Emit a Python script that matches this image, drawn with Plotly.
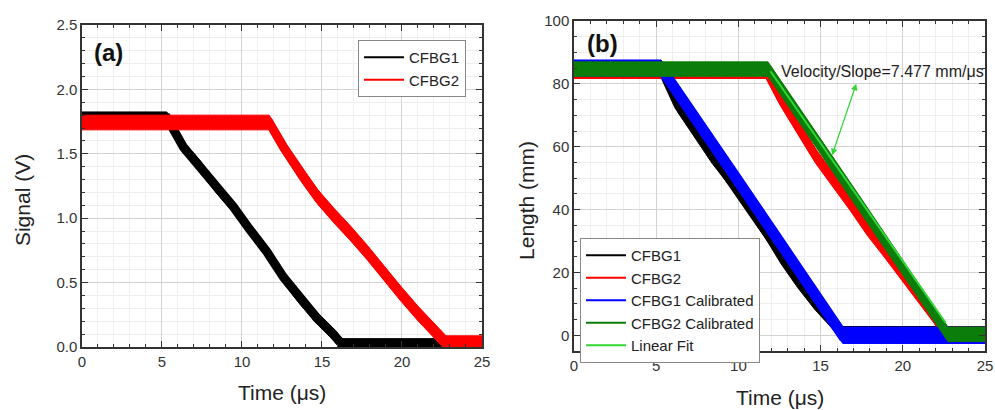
import plotly.graph_objects as go

# ---------------- Panel (a): Signal (V) vs Time (us) ----------------
t_a1 = [0, 5.3, 6.35, 7.4, 8.4, 9.45, 10.5, 11.55, 12.6, 13.6, 14.65, 15.7, 16.25, 25]
v_a1 = [1.78, 1.78, 1.55, 1.40, 1.24, 1.09, 0.91, 0.74, 0.54, 0.38, 0.23, 0.10, 0.02, 0.02]
t_a2 = [0, 11.7, 12.6, 13.65, 14.7, 15.75, 16.8, 17.85, 18.9, 19.95, 21.0, 22.0, 22.75, 25]
v_a2 = [1.743, 1.743, 1.55, 1.35, 1.17, 1.02, 0.88, 0.73, 0.57, 0.41, 0.26, 0.13, 0.03, 0.03]
noise_a = [0.045, 0.057]   # half-width of the noisy bands (V)

# ---------------- Panel (b): Length (mm) vs Time (us) ----------------
t_b1 = [0, 5.3, 6.35, 7.4, 8.4, 9.45, 10.5, 11.55, 12.6, 13.6, 14.65, 15.7, 16.3, 25]
l_b1 = [85, 85, 73, 65, 57, 50, 42, 34, 25, 17.5, 10.5, 4.5, 0.5, 0.5]
t_b2 = [0, 11.7, 12.6, 13.65, 14.7, 15.75, 16.8, 17.85, 18.9, 19.95, 21.0, 22.0, 22.5, 25]
l_b2 = [84, 84, 75, 66, 57, 49.5, 42, 34, 27, 19.5, 12.5, 5.5, 0.3, 0.3]
t_b3 = [0, 5.3, 10.0, 16.35, 25]
l_b3 = [85, 85, 49, 0.0, 0.0]
t_b4 = [0, 11.8, 17.3, 22.75, 25]
l_b4 = [84.7, 84.7, 42.5, 0.3, 0.3]
t_fit = [11.95, 22.6]
l_fit = [84.0, 4.0]
noise_b = [2.3, 2.3, 2.6, 2.3]   # half-width of the noisy bands (mm)

names_a = ["CFBG1", "CFBG2"]
names_b = ["CFBG1", "CFBG2", "CFBG1 Calibrated", "CFBG2 Calibrated", "Linear Fit"]
annot_text = "Velocity/Slope=7.477 mm/μs"

BLACK, RED, BLUE, DGREEN, LGREEN = "#000000", "#ff0000", "#0000ff", "#0a7d0a", "#33d633"
FONT = "Arial, Liberation Sans, sans-serif"


def band(t, v, h):
    xs = list(t) + list(t)[::-1]
    ys = [y + h for y in v] + [y - h for y in v][::-1]
    return xs, ys


fig = go.Figure()


def add_band(t, v, h, color, lw, xa, ya):
    xs, ys = band(t, v, h)
    fig.add_trace(go.Scatter(x=xs, y=ys, fill="toself", fillcolor=color, mode="lines",
                             line=dict(color=color, width=1), hoverinfo="skip",
                             showlegend=False, xaxis=xa, yaxis=ya))
    fig.add_trace(go.Scatter(x=t, y=v, mode="lines", line=dict(color=color, width=lw),
                             hoverinfo="skip", showlegend=False, xaxis=xa, yaxis=ya))


# panel a
add_band(t_a1, v_a1, noise_a[0], BLACK, 9, "x", "y")
add_band(t_a2, v_a2, noise_a[1], RED, 9, "x", "y")
# panel b
add_band(t_b1, l_b1, noise_b[0], BLACK, 9, "x2", "y2")
add_band(t_b2, l_b2, noise_b[1], RED, 8, "x2", "y2")
add_band(t_b3, l_b3, noise_b[2], BLUE, 11, "x2", "y2")
add_band(t_b4, l_b4, noise_b[3], DGREEN, 8, "x2", "y2")
fig.add_trace(go.Scatter(x=t_fit, y=l_fit, mode="lines", line=dict(color=LGREEN, width=2),
                         showlegend=False, hoverinfo="skip", xaxis="x2", yaxis="y2"))

# legend entries
for n, c in zip(names_a, [BLACK, RED]):
    fig.add_trace(go.Scatter(x=[None], y=[None], mode="lines", name=n,
                             line=dict(color=c, width=2), xaxis="x", yaxis="y",
                             legend="legend"))
for n, c in zip(names_b, [BLACK, RED, BLUE, DGREEN, LGREEN]):
    fig.add_trace(go.Scatter(x=[None], y=[None], mode="lines", name=n,
                             line=dict(color=c, width=2), xaxis="x2", yaxis="y2",
                             legend="legend2"))

axis_common = dict(ticks="inside", ticklen=6, tickwidth=1.2, tickcolor="#333",
                   showline=True, linecolor="#333", linewidth=1.5, mirror="ticks",
                   showgrid=True, gridcolor="#d2d2d2", gridwidth=1, zeroline=False,
                   automargin=False,
                   tickfont=dict(size=15, color="#333", family=FONT))
minor_common = dict(ticks="inside", ticklen=3.5, tickcolor="#333",
                    showgrid=True, gridcolor="#efefef")

fig.update_layout(
    template="none",
    autosize=False,
    width=995, height=410, margin=dict(l=0, r=0, t=0, b=0, pad=0),
    paper_bgcolor="white", plot_bgcolor="white",
    font=dict(family=FONT, color="#222"),
    xaxis=dict(domain=[0.08241, 0.48442], range=[0, 25], dtick=5, tick0=0, anchor="y",
               minor=dict(dtick=1, **minor_common), **axis_common),
    yaxis=dict(domain=[0.15366, 0.93902], range=[0, 2.5], dtick=0.5, tick0=0,
               tickformat=".1f", anchor="x",
               minor=dict(dtick=0.1, **minor_common), **axis_common),
    xaxis2=dict(domain=[0.57688, 0.98995], range=[0, 25], dtick=5, tick0=0, anchor="y2",
                minor=dict(dtick=1, **minor_common), **axis_common),
    yaxis2=dict(domain=[0.14390, 0.94878], range=[-5, 100], dtick=20, tick0=0, anchor="x2",
                minor=dict(dtick=5, **minor_common), **axis_common),
    legend=dict(x=0.3598, y=0.9024, xanchor="left", yanchor="top", bgcolor="white",
                bordercolor="#888", borderwidth=1, itemwidth=40,
                font=dict(size=15, family=FONT, color="#222"), tracegroupgap=0),
    legend2=dict(x=0.5829, y=0.4195, xanchor="left", yanchor="top", bgcolor="white",
                 bordercolor="#888", borderwidth=1, itemwidth=40,
                 font=dict(size=15, family=FONT, color="#222"), tracegroupgap=0),
)

ann = []
# panel labels
ann.append(dict(text="<b>(a)</b>", x=0.6, y=2.29, xref="x", yref="y", xanchor="left",
                yanchor="middle", showarrow=False, font=dict(size=24, family=FONT, color="#111")))
ann.append(dict(text="<b>(b)</b>", x=0.67, y=92.9, xref="x2", yref="y2", xanchor="left",
                yanchor="middle", showarrow=False, font=dict(size=24, family=FONT, color="#111")))
# axis titles
ann.append(dict(text="Signal (V)", x=0.0221, y=0.512, xref="paper", yref="paper",
                xanchor="center", yanchor="middle",
                textangle=-90, showarrow=False, font=dict(size=21, family=FONT, color="#222")))
ann.append(dict(text="Time (μs)", x=0.2834, y=0.0439, xref="paper", yref="paper",
                xanchor="center", yanchor="middle",
                showarrow=False, font=dict(size=21, family=FONT, color="#222")))
ann.append(dict(text="Length (mm)", x=0.5297, y=0.51, xref="paper", yref="paper",
                xanchor="center", yanchor="middle",
                textangle=-90, showarrow=False, font=dict(size=21, family=FONT, color="#222")))
ann.append(dict(text="Time (μs)", x=0.7839, y=0.0317, xref="paper", yref="paper",
                xanchor="center", yanchor="middle",
                showarrow=False, font=dict(size=21, family=FONT, color="#222")))
# slope annotation
ann.append(dict(text=annot_text, x=18.74, y=84, xref="x2", yref="y2", showarrow=False,
                xanchor="center", yanchor="middle",
                font=dict(size=16, family=FONT, color="#222")))
ann.append(dict(text="", x=15.7, y=57.3, ax=17.2, ay=80.5, xref="x2", yref="y2",
                axref="x2", ayref="y2", showarrow=True, arrowhead=2, startarrowhead=2,
                arrowside="end+start", arrowwidth=1.3, arrowcolor=LGREEN, arrowsize=1,
                startarrowsize=1))
fig.update_layout(annotations=ann)

fig.write_html("out.html",
               config={"displayModeBar": False},
               post_script="document.body.style.margin='0px';document.body.style.overflow='hidden';")
